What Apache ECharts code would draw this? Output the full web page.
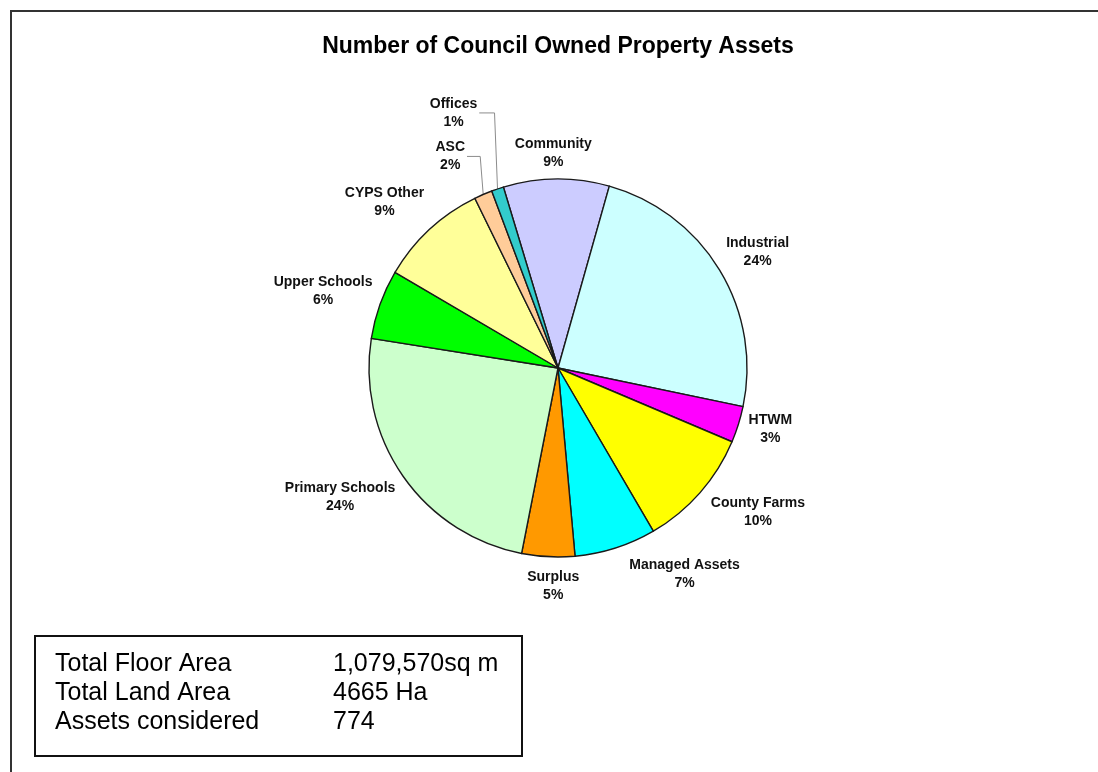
<!DOCTYPE html>
<html>
<head>
<meta charset="utf-8">
<script src="https://cdn.jsdelivr.net/npm/echarts@6/dist/echarts.min.js"></script>
<style>
  html, body { margin: 0; padding: 0; background: #fff; }
  #chart { width: 1098px; height: 772px; }
</style>
</head>
<body>
<div id="chart"></div>
<script>
// Property asset categories, listed clockwise from the top of the pie
const categories = ['Community', 'Industrial', 'HTWM', 'County Farms', 'Managed Assets',
  'Surplus', 'Primary Schools', 'Upper Schools', 'CYPS Other', 'ASC', 'Offices'];
// Number of assets in each category (774 in total)
const assetCounts = [70, 185, 24, 79, 54, 35, 189, 46, 72, 12, 8];
const sliceColors = ['#CCCCFF', '#CCFFFF', '#FF00FF', '#FFFF00', '#00FFFF',
  '#FF9900', '#CCFFCC', '#00FF00', '#FFFF99', '#FFCC99', '#33CCCC'];
// Summary box rows
const summaryLabels = ['Total Floor Area', 'Total Land Area', 'Assets considered'];
const summaryValues = ['1,079,570sq m', '4665 Ha', '774'];

const FONT = "'Liberation Sans', Arial, Helvetica, sans-serif";
const CX = 558, CY = 368, R = 189, START = 106.8;

// Label placement relative to the outer edge point at each slice's middle angle
const labelOffsets = [[-3, -26], [38, -18], [32, 5], [58, 19], [69, 26], [5, 29],
  [-63, 21], [-57, -13], [-45, -27], [-33, -38], [-44, -76]];
// Small slices that get a leader line
const leaderSlices = ['ASC', 'Offices'];

const total = assetCounts.reduce((a, b) => a + b, 0);
function edgePoint(i) {
  let before = 0;
  for (let k = 0; k < i; k++) before += assetCounts[k];
  const ang = (START - (before + assetCounts[i] / 2) / total * 360) * Math.PI / 180;
  return [CX + R * Math.cos(ang), CY - R * Math.sin(ang)];
}

const chart = echarts.init(document.getElementById('chart'), null, { renderer: 'canvas' });

const pieData = categories.map((name, i) => ({
  name: name,
  value: assetCounts[i],
  itemStyle: { color: sliceColors[i] },
  labelLine: leaderSlices.indexOf(name) >= 0
    ? { show: true, length: 20, length2: 5, lineStyle: { color: '#8c8c8c', width: 1 } }
    : { show: false }
}));

const graphics = [
  // outer frame
  { type: 'rect', shape: { x: 11, y: 11, width: 1200, height: 900 },
    style: { fill: 'none', stroke: '#333', lineWidth: 2 }, silent: true },
  // title
  { type: 'text', x: 558, y: 47,
    style: { text: 'Number of Council Owned Property Assets', fill: '#000',
      font: 'bold 23px ' + FONT, textAlign: 'center', textVerticalAlign: 'middle' } },
  // summary box
  { type: 'rect', shape: { x: 35, y: 636, width: 487, height: 120 },
    style: { fill: '#fff', stroke: '#111', lineWidth: 2 } }
];
summaryLabels.forEach((t, i) => {
  graphics.push({ type: 'text', x: 55, y: 664 + i * 29,
    style: { text: t, fill: '#000', font: '25px ' + FONT, textVerticalAlign: 'middle' } });
  graphics.push({ type: 'text', x: 333, y: 664 + i * 29,
    style: { text: summaryValues[i], fill: '#000', font: '25px ' + FONT, textVerticalAlign: 'middle' } });
});

chart.setOption({
  animation: false,
  backgroundColor: '#fff',
  graphic: graphics,
  series: [{
    type: 'pie',
    center: [CX, CY],
    radius: R,
    startAngle: START,
    clockwise: true,
    avoidLabelOverlap: false,
    percentPrecision: 0,
    data: pieData,
    itemStyle: { borderColor: '#1a1a1a', borderWidth: 1.4 },
    emphasis: { disabled: true },
    label: {
      show: true,
      position: 'outside',
      formatter: '{b}\n{d}%',
      color: '#111',
      fontFamily: FONT,
      fontWeight: 'bold',
      fontSize: 14,
      lineHeight: 18
    },
    labelLayout: function (params) {
      const i = params.dataIndex;
      const p0 = edgePoint(i);
      const off = labelOffsets[i];
      const x = p0[0] + off[0];
      const y = p0[1] + off[1];
      const out = { x: x, y: y, align: 'center', verticalAlign: 'middle' };
      if (leaderSlices.indexOf(categories[i]) >= 0) {
        const halfW = params.labelRect.width / 2;
        out.labelLinePoints = [p0, [p0[0] - 3, y], [x + halfW + 2, y]];
      }
      return out;
    }
  }]
});
</script>
</body>
</html>
